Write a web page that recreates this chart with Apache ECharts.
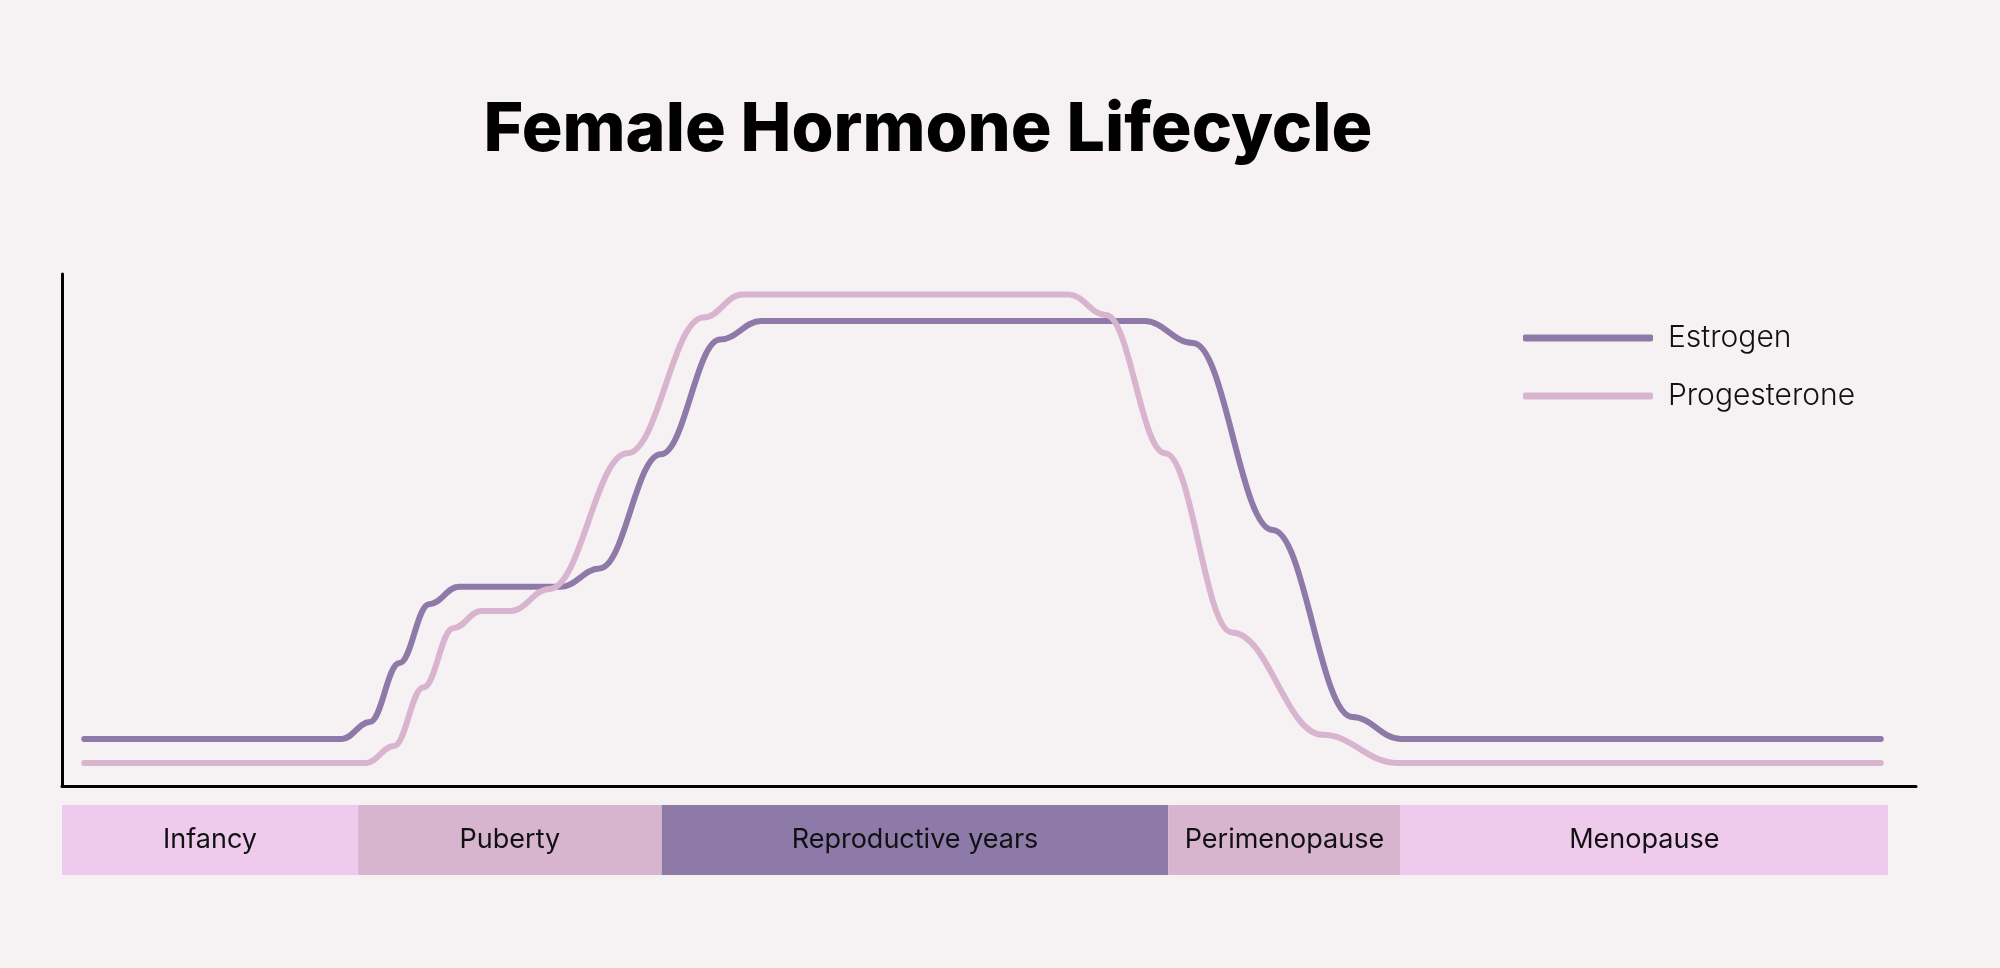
<!DOCTYPE html>
<html><head><meta charset="utf-8">
<script src="https://cdn.jsdelivr.net/npm/echarts@6/dist/echarts.min.js"></script>
<style>html,body{margin:0;background:#f6f2f3}#c{width:2000px;height:968px}</style>
</head><body><div id="c"></div>
<script>
const estrogenX = [1.2, 15.1, 16.6, 18.2, 19.8, 21.4, 26.9, 29.0, 32.3, 35.5, 37.7, 58.4, 61.0, 65.3, 69.6, 72.2, 98.1];
const estrogenY = [9.2, 9.2, 12.5, 24, 35.5, 38.9, 38.9, 42.5, 64.8, 87.2, 90.8, 90.8, 86.5, 50, 13.5, 9.2, 9.2];
const progX = [1.2, 16.4, 17.9, 19.5, 21.1, 22.6, 24.2, 26.3, 30.5, 34.6, 36.7, 54.3, 56.3, 59.5, 63.1, 68.0, 72.0, 98.1];
const progY = [4.5, 4.5, 7.8, 19.3, 30.8, 34.2, 34.2, 38.5, 65, 91.5, 96, 96, 92, 65, 30, 10, 4.5, 4.5];
const stages = ['Infancy', 'Puberty', 'Reproductive years', 'Perimenopause', 'Menopause'];
const stageWidths = [15.97, 16.38, 27.32, 12.53, 26.29];
const stageColors = ['#eecbed', '#d8b5cf', '#8e7aa8', '#d8b5cf', '#eecbed'];
const stageStart = -0.07;

const pair = (xs, ys) => xs.map((x, i) => [x, ys[i]]);
const chart = echarts.init(document.getElementById('c'));
const bandSeries = [{type:'bar', stack:'s', data:[stageStart], itemStyle:{color:'transparent'}, barWidth:'100%', silent:true, xAxisIndex:1, yAxisIndex:1}];
stages.forEach((s, i) => bandSeries.push({
  type:'bar', stack:'s', name:s, data:[stageWidths[i]], barWidth:'100%', xAxisIndex:1, yAxisIndex:1,
  itemStyle:{color:stageColors[i]},
  label:{show:true, position:'inside', formatter:s, color:'#111', fontFamily:'Inter', fontSize:27}
}));
chart.setOption({
  backgroundColor:'#f6f2f3',
  animation:false,
  title:{text:'Female Hormone Lifecycle', left:923, textAlign:'center', top:92,
    textStyle:{fontFamily:'Inter', fontWeight:800, fontSize:68, color:'#000'}},
  legend:{data:['Estrogen','Progesterone'], orient:'vertical', left:1518, top:318, itemWidth:130, itemHeight:7,
    icon:'roundRect', itemGap:28, textStyle:{fontFamily:'Inter', fontWeight:300, fontSize:30, color:'#111', padding:[0,0,0,10]}},
  grid:[{left:62, right:84, top:274, bottom:182},{left:62, right:84, top:805, height:70}],
  xAxis:[
    {type:'value', min:0, max:100, axisLine:{lineStyle:{color:'#000', width:3}}, axisTick:{show:false}, axisLabel:{show:false}, splitLine:{show:false}},
    {type:'value', gridIndex:1, min:0, max:100, show:false}
  ],
  yAxis:[
    {type:'value', min:0, max:100, axisLine:{show:true, lineStyle:{color:'#000', width:3}}, axisTick:{show:false}, axisLabel:{show:false}, splitLine:{show:false}},
    {type:'category', gridIndex:1, data:['a'], show:false}
  ],
  series:[
    {name:'Estrogen', type:'line', data:pair(estrogenX, estrogenY), smooth:0.4, smoothMonotone:'x', showSymbol:false,
      lineStyle:{color:'#8e79a9', width:6, cap:'round'}, itemStyle:{color:'#8e79a9'}},
    {name:'Progesterone', type:'line', data:pair(progX, progY), smooth:0.4, smoothMonotone:'x', showSymbol:false,
      lineStyle:{color:'#d8b4cf', width:6, cap:'round'}, itemStyle:{color:'#d8b4cf'}},
    ...bandSeries
  ]
});
</script></body></html>
